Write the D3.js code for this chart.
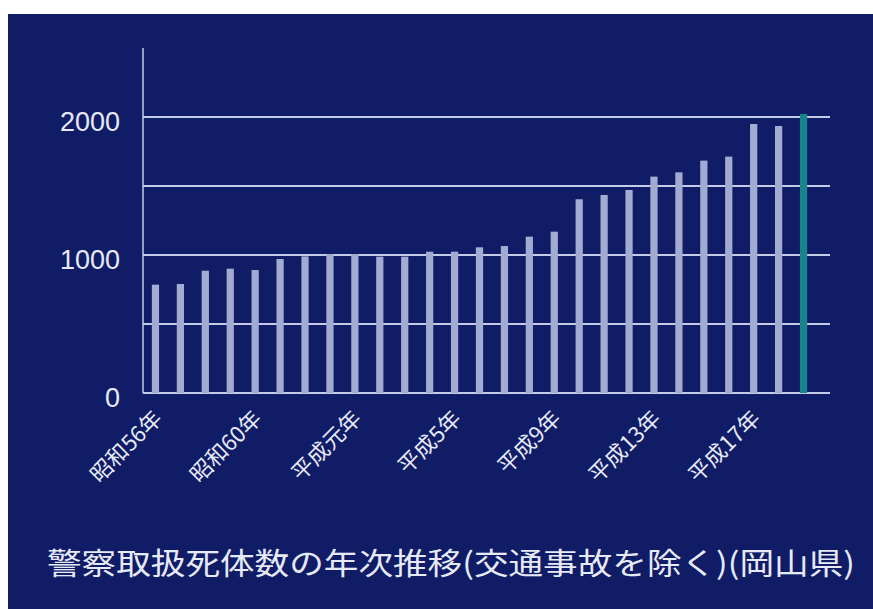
<!DOCTYPE html>
<html>
<head>
<meta charset="utf-8">
<script src="https://cdn.jsdelivr.net/npm/d3@7/dist/d3.min.js"></script>
<style>
  body { margin: 0; background: #ffffff; }
  svg { display: block; }
</style>
</head>
<body>
<div id="chart"></div>
<script>
// data (昭和56年 .. 平成19年)
var years = ["昭和56年", "昭和57年", "昭和58年", "昭和59年", "昭和60年", "昭和61年", "昭和62年", "昭和63年",
  "平成元年", "平成2年", "平成3年", "平成4年", "平成5年", "平成6年", "平成7年", "平成8年",
  "平成9年", "平成10年", "平成11年", "平成12年", "平成13年", "平成14年", "平成15年", "平成16年",
  "平成17年", "平成18年", "平成19年"];
var counts = [785, 790, 886, 901, 891, 971, 990, 1007, 1007, 988, 988, 1024, 1024, 1056, 1065, 1133,
  1169, 1404, 1435, 1471, 1568, 1599, 1684, 1713, 1949, 1935, 2022];
var shownLabels = ["昭和56年", "昭和60年", "平成元年", "平成5年", "平成9年", "平成13年", "平成17年"];
var yTicks = [0, 500, 1000, 1500, 2000];
var yLabels = [0, 1000, 2000];
var chartTitle = "警察取扱死体数の年次推移(交通事故を除く)(岡山県)";

var svgWidth = 873;
var svgHeight = 609;

var svg = d3.select("#chart")
  .append("svg")
  .attr("width", svgWidth)
  .attr("height", svgHeight);

// navy slide background with white margin top/left
svg.append("rect")
  .attr("x", 8)
  .attr("y", 14)
  .attr("width", svgWidth - 8)
  .attr("height", svgHeight - 14)
  .attr("fill", "#111c66");

var plot = { left: 143, right: 816, top: 48, bottom: 393, gridEnd: 830 };

var x = d3.scaleBand()
  .domain(years)
  .range([plot.left, plot.right])
  .paddingInner(0.71)
  .paddingOuter(0.355);

var y = d3.scaleLinear()
  .domain([0, 2500])
  .range([plot.bottom, plot.top]);

// gridlines
svg.append("g")
  .selectAll("line")
  .data(yTicks)
  .enter()
  .append("line")
  .attr("x1", plot.left)
  .attr("x2", plot.gridEnd)
  .attr("y1", d => y(d))
  .attr("y2", d => y(d))
  .attr("stroke", "#c3cbe6")
  .attr("stroke-width", 2);

// bars
svg.append("g")
  .selectAll("rect")
  .data(counts)
  .enter()
  .append("rect")
  .attr("x", (d, i) => x(years[i]))
  .attr("y", d => y(d))
  .attr("width", x.bandwidth())
  .attr("height", d => y(0) - y(d))
  .attr("fill", (d, i) => i === counts.length - 1 ? "#17858a" : "#a2abd2");

// y axis line
svg.append("line")
  .attr("x1", plot.left)
  .attr("x2", plot.left)
  .attr("y1", plot.top)
  .attr("y2", plot.bottom)
  .attr("stroke", "#c3cbe6")
  .attr("stroke-width", 1.5);

// y labels
svg.append("g")
  .selectAll("text")
  .data(yLabels)
  .enter()
  .append("text")
  .attr("x", 120)
  .attr("y", d => y(d) + 4)
  .attr("dy", "0.36em")
  .attr("text-anchor", "end")
  .attr("font-family", "Liberation Sans, Arial, sans-serif")
  .attr("font-size", "27px")
  .attr("fill", "#e6eaf6")
  .text(d => d);

// x labels, rotated
svg.append("g")
  .selectAll("text")
  .data(shownLabels)
  .enter()
  .append("text")
  .attr("transform", d => `translate(${x(d) + x.bandwidth() / 2 + 8}, 420) rotate(-45)`)
  .attr("text-anchor", "end")
  .attr("font-family", "Noto Sans CJK JP, sans-serif")
  .attr("font-size", "22px")
  .attr("fill", "#e6eaf6")
  .text(d => d);

// title
svg.append("text")
  .attr("x", 47)
  .attr("y", 574)
  .attr("textLength", 808)
  .attr("lengthAdjust", "spacingAndGlyphs")
  .attr("font-family", "Noto Sans CJK JP, sans-serif")
  .attr("font-size", "30px")
  .attr("fill", "#e6eaf6")
  .text(chartTitle);
</script>
</body>
</html>
